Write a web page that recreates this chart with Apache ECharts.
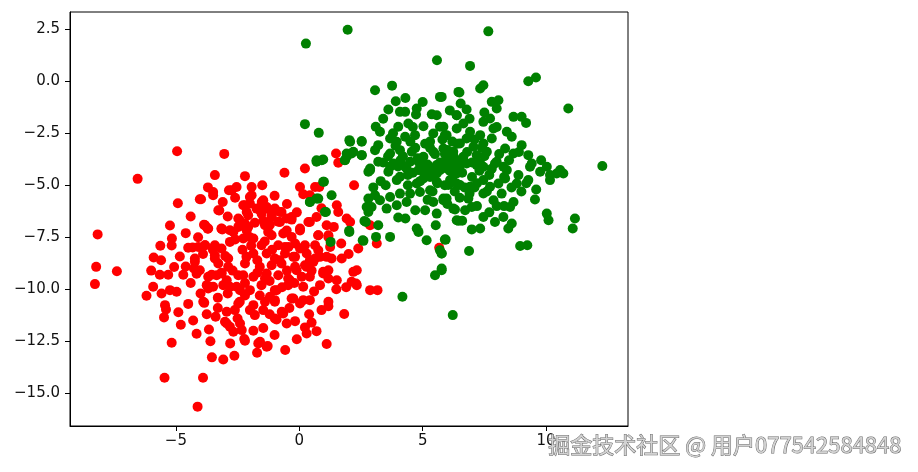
<!DOCTYPE html>
<html>
<head>
<meta charset="utf-8">
<script src="https://cdn.jsdelivr.net/npm/echarts@6.0.0/dist/echarts.min.js"></script>
<style>
  html, body { margin: 0; padding: 0; background: #fff; }
  #chart { width: 918px; height: 472px; }
</style>
</head>
<body>
<div id="chart"></div>
<script>
// tick positions
const xTicks = [-5, 0, 5, 10];
const yTicks = [-15, -12.5, -10, -7.5, -5, -2.5, 0, 2.5];

// red blob
const redPoints = [
  [-4.95, -3.36], [-3.04, -3.49], [-6.55, -4.69], [-3.42, -4.51], [-3.49, -5.32], [-2.85, -5.24],
  [-3.98, -5.67], [-4.92, -5.86], [-3.24, -6.21], [-8.17, -7.36], [-5.24, -6.93], [-3.86, -6.9],
  [-3.71, -7.09], [-3.12, -7.12], [-5.16, -7.56], [-5.63, -7.91], [-5.17, -7.89], [-4.32, -7.99],
  [-3.82, -7.88], [-5.9, -8.47], [-4.84, -8.42], [-8.23, -8.92], [-7.39, -9.13], [-5.07, -8.93],
  [-4.23, -8.68], [-4.27, -9.0], [-3.42, -8.52], [-5.65, -9.3], [-5.31, -9.3], [-4.7, -9.3],
  [-4.16, -9.25], [-3.55, -9.3], [-3.15, -9.2], [-8.28, -9.75],
  [-5.92, -9.88], [-6.19, -10.31], [-5.58, -10.2], [-5.24, -10.04], [-4.97, -10.12], [-3.62, -9.88],
  [-5.44, -10.76], [-5.4, -10.97], [-5.48, -11.35], [-3.85, -10.65], [-3.75, -11.2], [-3.39, -11.32],
  [-2.94, -11.08], [-2.94, -11.64], [-4.16, -12.14], [-3.66, -11.93], [-5.17, -12.57], [-3.54, -13.27],
  [-3.08, -13.37], [-5.46, -14.25], [-3.9, -14.25], [-4.12, -15.64],
  [-2.63, -13.19], [-2.2, -12.47], [-1.66, -12.6], [-1.28, -12.73], [-1.71, -13.05], [-0.57, -12.92],
  [2.19, -9.16], [2.3, -9.72], [1.18, -10.81], [1.82, -11.19], [1.11, -12.63], [0.7, -12.01],
  [0.3, -12.12], [0.23, -11.83], [-0.17, -11.53], [-0.65, -11.16], [-0.92, -11.45], [-0.51, -11.64],
  [-1.32, -12.76], [-1.59, -12.52], [-1.46, -11.86], [-1.86, -11.99], [-2.23, -12.39],
  [-3.01, -11.56], [-2.81, -11.8], [-2.4, -11.64], [-2.33, -11.96], [-2.67, -12.04], [-2.61, -11.0],
  [-2.47, -10.68], [-1.86, -10.76], [-1.8, -11.24], [-1.46, -11.0], [-1.39, -10.6], [-0.99, -11.4],
  [-0.71, -11.08], [-1.19, -10.36], [-0.99, -10.6], [-0.92, -10.04], [-0.24, -10.44], [0.03, -10.68],
  [0.16, -10.52], [-2.4, -10.04], [-2.81, -9.88], [-3.49, -9.88], [-3.75, -9.8],
  [-2.2, -4.56], [-2.74, -5.24], [-2.54, -5.08], [-1.93, -5.08], [-1.93, -5.48], [-2.0, -5.88],
  [-1.52, -5.8], [-1.59, -6.2], [-2.27, -5.96], [-2.13, -6.28], [-1.32, -6.11], [-1.12, -6.44],
  [-0.78, -6.28], [-2.4, -6.7], [-2.2, -6.85], [-1.8, -6.8], [-1.46, -6.7], [-1.19, -6.9],
  [-0.85, -6.75], [-0.51, -6.6], [-0.31, -6.65], [-3.82, -6.93], [-3.15, -7.09], [-2.67, -7.24],
  [-2.13, -7.17], [-1.26, -7.24], [-0.51, -7.17], [0.03, -7.17],
  [0.23, -4.19], [0.03, -5.08], [0.16, -5.43], [0.43, -5.48], [0.64, -5.08], [0.81, -5.08],
  [1.49, -3.47], [1.58, -3.92], [2.22, -5.0], [1.52, -5.96], [1.58, -6.28], [1.92, -6.6],
  [2.06, -6.76], [0.43, -6.76], [0.7, -6.52], [1.11, -6.92], [1.18, -7.4], [0.77, -7.4],
  [1.31, -8.52], [1.72, -8.52], [1.18, -9.08], [2.39, -8.04], [0.77, -8.12], [0.84, -8.44],
  [0.43, -8.6], [0.3, -8.92], [-0.11, -9.08], [-0.24, -8.44], [-0.44, -7.96], [0.03, -8.04],
  [2.87, -6.92], [3.14, -7.8], [2.33, -9.08], [2.12, -9.64], [2.33, -9.8], [2.87, -10.04],
  [3.17, -10.04], [5.67, -8.0],
  [-4.03, -5.67], [-3.49, -5.48], [-2.0, -5.56], [-1.46, -5.72],
  [-3.28, -6.2], [-2.2, -5.96], [-1.73, -6.12], [-1.32, -6.04], [-0.99, -6.12], [-0.31, -6.52],
  [-2.47, -6.6], [-2.07, -6.44], [-1.53, -6.36], [-1.12, -6.52], [-0.72, -6.28], [-0.78, -6.76],
  [0.03, -7.08], [0.37, -6.76],
  [-3.82, -6.92], [-3.69, -7.08], [-3.15, -7.08], [-2.81, -7.16], [-2.47, -7.0], [-2.07, -7.0],
  [-1.39, -6.92], [-1.12, -7.4], [-0.65, -7.32], [-0.31, -7.48], [0.77, -7.4], [1.18, -7.48],
  [-4.09, -7.96], [-3.82, -7.88], [-3.42, -7.88], [-3.15, -8.04], [-2.81, -7.72], [-2.27, -7.56],
  [-1.86, -7.56], [-1.53, -7.88], [-0.85, -7.88], [-0.58, -7.96], [-0.17, -7.8], [0.23, -7.88],
  [0.64, -7.88], [1.25, -7.96],
  [-4.23, -8.52], [-3.42, -8.36], [-2.88, -8.52], [-2.14, -8.44], [-1.86, -8.28], [-1.32, -8.28],
  [-0.99, -8.52], [-0.58, -8.28], [-0.17, -8.44], [0.3, -8.28], [0.64, -8.52], [1.11, -8.44],
  [-4.03, -9.08], [-3.28, -8.76], [-2.88, -8.92], [-2.2, -8.76], [-1.6, -8.92], [-1.12, -8.84],
  [-0.72, -8.76], [-0.17, -8.92], [0.23, -8.84], [0.57, -8.68], [0.97, -9.16],
  [-3.69, -9.4], [-3.15, -9.24], [-2.47, -9.32], [-1.86, -9.4], [-1.39, -9.48], [-0.85, -9.32],
  [-0.45, -9.48], [0.1, -9.4], [0.43, -9.4], [1.18, -9.48],
  [-3.69, -9.96], [-3.08, -9.8], [-2.54, -9.88], [-2.0, -10.04], [-1.53, -9.8], [-0.99, -10.04],
  [-0.45, -9.8], [0.16, -9.88], [0.84, -9.8],
  [-3.89, -10.6], [-2.41, -10.6], [-0.99, -10.52], [-0.31, -10.44], [0.43, -10.52], [1.18, -10.6],
  [-3.35, -9.32], [-2.94, -9.56], [-2.27, -9.32], [-1.32, -9.24], [-0.38, -9.56], [0.97, -9.24],
  [1.52, -9.56],
  [-2.9, -6.5], [-2.6, -7.6], [-2.3, -8.1], [-1.95, -7.9], [-1.7, -8.6], [-1.4, -7.7],
  [-1.1, -8.1], [-0.8, -8.6], [-0.5, -9.1], [-0.2, -9.7], [0.5, -9.1], [0.6, -10.1],
  [-0.7, -9.9], [-1.2, -9.6], [-1.7, -9.2], [-2.2, -9.7], [-2.7, -9.1], [-3.0, -8.4],
  [-3.5, -8.1], [-3.9, -8.3], [-4.5, -8.0], [-4.6, -8.9], [-4.4, -9.7], [-4.0, -10.2],
  [-3.3, -10.4], [-2.9, -10.2], [-2.2, -10.3], [-1.6, -10.3], [-2.0, -11.0], [-1.2, -11.2],
  [-0.4, -10.9], [0.4, -11.2], [-3.3, -10.9], [-4.5, -10.7], [-4.3, -11.5], [-3.6, -12.5],
  [-2.8, -12.6], [-1.0, -12.2], [-0.1, -12.4], [0.5, -11.6], [-1.0, -5.5], [-0.5, -5.9],
  [-2.6, -5.6], [-3.1, -5.8], [-4.4, -6.5], [-4.6, -7.3], [-4.1, -7.5], [-2.0, -7.5],
  [-0.1, -6.3], [0.9, -6.1], [1.4, -7.0], [1.7, -7.8], [2.0, -8.3], [1.5, -10.0],
  [1.9, -9.9], [-5.6, -8.6], [-6.0, -9.1], [-4.9, -11.1], [-4.8, -11.7], [-2.5, -11.4],
  [0.9, -11.0], [-1.5, -5.0], [-3.7, -5.1], [-0.6, -4.4]
];

// green blob
const greenPoints = [
  [1.96, 2.48], [0.27, 1.81], [5.58, 1.01], [3.07, -0.43], [3.76, -0.21], [5.7, -0.75],
  [6.45, -0.51], [3.91, -0.96], [3.61, -1.36], [4.08, -1.47], [4.29, -1.47], [4.76, -1.31],
  [4.73, -1.6], [5.37, -1.59], [5.57, -1.63], [6.38, -1.63], [0.23, -2.06], [0.79, -2.48],
  [3.1, -2.19], [3.27, -2.43], [4.01, -2.19], [4.42, -2.03], [5.03, -2.16], [5.43, -2.51],
  [5.7, -2.19], [5.97, -2.59], [6.38, -2.27], [2.03, -2.83], [2.53, -2.87], [3.2, -3.07],
  [3.07, -3.31], [3.68, -2.75], [3.95, -2.91], [4.29, -2.67], [4.69, -2.59], [1.92, -3.47],
  [2.19, -3.39], [2.53, -3.55], [3.68, -3.47], [4.08, -3.31], [4.56, -3.39], [5.03, -3.63],
  [5.43, -3.39], [5.84, -3.23], [6.24, -3.55], [0.7, -3.87], [0.97, -3.76], [1.85, -3.8],
  [2.87, -4.19], [3.68, -4.11], [4.29, -4.11], [4.83, -3.87], [5.3, -4.19], [5.97, -3.95],
  [6.45, -4.11],
  [7.66, 2.4], [6.92, 0.74], [9.28, 0.0], [9.59, 0.18], [7.33, -0.35], [7.46, -0.19],
  [6.49, -0.54], [5.77, -0.75], [7.8, -0.99], [8.07, -0.91], [8.0, -1.31], [10.9, -1.31],
  [6.54, -1.07], [6.78, -1.36], [6.38, -1.63], [8.68, -1.71], [9.01, -1.71], [9.19, -2.0],
  [7.46, -1.95], [7.73, -1.79], [7.87, -2.27], [6.65, -2.03], [6.92, -2.43], [6.78, -2.75],
  [7.33, -2.59], [5.84, -2.19], [5.9, -2.59], [8.41, -2.43], [8.61, -2.67], [9.01, -3.07],
  [8.34, -3.23], [8.68, -3.47], [9.28, -3.55], [9.42, -3.95], [6.51, -2.99], [7.06, -3.15],
  [7.46, -2.99], [7.8, -2.75], [6.24, -3.39], [6.65, -3.63], [7.19, -3.55], [7.6, -3.39],
  [5.97, -3.8], [6.51, -4.03], [7.33, -3.95], [8.0, -3.87], [8.27, -4.11], [10.03, -4.11],
  [10.57, -4.27], [12.28, -4.07],
  [5.97, -4.03], [6.38, -4.11], [6.78, -3.95], [7.19, -4.03], [7.46, -4.11], [7.93, -3.95],
  [8.41, -4.27], [8.88, -4.51], [9.35, -4.11], [9.76, -4.35], [10.16, -4.51], [10.43, -4.43],
  [10.7, -4.43], [6.11, -4.75], [6.51, -4.99], [6.92, -5.07], [7.46, -4.75], [7.73, -5.07],
  [8.07, -4.91], [8.34, -4.67], [8.81, -4.91], [9.28, -4.75], [10.16, -4.75], [5.84, -5.72],
  [5.97, -5.64], [6.85, -5.64], [7.46, -5.39], [7.87, -5.72], [8.68, -5.8], [8.54, -6.04],
  [9.55, -5.68], [6.31, -6.16], [6.72, -6.2], [6.99, -6.04], [7.46, -6.52], [7.93, -6.76],
  [8.27, -6.52], [8.61, -6.84], [8.47, -7.08], [6.45, -6.71], [6.99, -7.12], [7.33, -7.08],
  [10.03, -6.36], [10.1, -6.68], [11.17, -6.6], [11.08, -7.08], [8.95, -7.92], [9.24, -7.88],
  [6.88, -8.16], [5.9, -7.61], [5.77, -8.28], [5.77, -9.08], [6.22, -11.24],
  [1.85, -3.79], [2.87, -4.27], [3.2, -3.87], [3.61, -4.35], [4.08, -4.59], [4.35, -4.19],
  [4.83, -4.27], [5.16, -4.51], [5.57, -4.43], [5.97, -4.19], [6.38, -4.43], [3.81, -3.95],
  [4.49, -3.87], [5.03, -3.95], [5.57, -4.03], [6.24, -3.87], [0.97, -4.83], [1.31, -5.48],
  [0.7, -5.64], [0.43, -5.8], [1.04, -6.28], [2.8, -5.64], [3.07, -5.48], [3.27, -5.72],
  [3.68, -5.56], [2.93, -6.04], [3.54, -6.12], [3.95, -5.96], [4.35, -5.8], [4.49, -5.4],
  [4.08, -5.4], [4.89, -5.32], [5.3, -5.24], [5.84, -5.64], [5.43, -5.8], [5.1, -6.2],
  [5.57, -6.36], [6.24, -6.12], [6.38, -6.68], [3.95, -4.75], [4.76, -4.91], [5.03, -4.67],
  [5.57, -4.83], [6.04, -4.99], [6.38, -4.91], [5.7, -4.27], [6.11, -3.95], [2.7, -6.76],
  [3.2, -6.92], [2.03, -7.24], [2.6, -7.67], [3.11, -7.48], [3.68, -7.48], [4.01, -6.55],
  [4.76, -7.08], [4.83, -7.24], [5.16, -7.64], [5.53, -6.92], [5.93, -7.61], [5.77, -8.28],
  [5.7, -8.12], [5.77, -9.0], [5.5, -9.32], [4.18, -10.36],
  [2.06, -2.91], [2.53, -2.91], [0.7, -3.8], [0.91, -3.8], [1.92, -3.63], [2.12, -3.47],
  [2.53, -3.55], [2.8, -4.35], [1.0, -4.83], [0.43, -5.8], [0.77, -5.64], [1.08, -6.28],
  [2.73, -6.04], [2.8, -6.28], [2.64, -6.72], [2.02, -7.19], [2.57, -7.64], [1.27, -7.72],
  [3.9, -3.1], [4.2, -3.6], [4.5, -2.9], [4.8, -3.7], [5.1, -3.0], [5.3, -4.6],
  [5.5, -3.5], [5.8, -2.8], [6.0, -3.3], [6.2, -4.7], [6.4, -3.0], [6.6, -4.4],
  [6.8, -3.4], [7.0, -4.6], [7.1, -2.8], [7.3, -4.3], [7.5, -3.6], [7.7, -4.5],
  [6.9, -5.4], [6.3, -5.3], [5.9, -5.0], [5.4, -5.3], [4.9, -4.8], [4.4, -5.0],
  [4.0, -4.1], [3.6, -3.6], [3.3, -4.8], [4.6, -4.4], [5.2, -4.0], [5.7, -3.9],
  [6.1, -4.3], [6.5, -5.6], [7.1, -5.1], [7.6, -5.3], [8.2, -5.4], [8.5, -3.8],
  [8.9, -3.4], [9.2, -4.9], [9.6, -5.2], [8.0, -6.0],
  [4.1, -3.8], [4.4, -4.5], [4.7, -3.2], [5.0, -4.3], [5.3, -3.2], [5.6, -4.9],
  [5.9, -3.5], [6.2, -2.9], [6.5, -3.8], [6.7, -5.1], [7.0, -3.9], [7.2, -4.9],
  [7.4, -3.2], [7.8, -4.2], [8.1, -3.5], [8.3, -4.6], [8.6, -5.1], [8.0, -2.2],
  [7.5, -1.5], [6.9, -1.8], [6.1, -1.4], [5.3, -2.9], [4.6, -2.2], [3.8, -2.5],
  [3.4, -3.9], [3.5, -5.0], [3.0, -5.1], [4.3, -6.6], [4.7, -6.2], [5.2, -5.7],
  [6.0, -5.9], [6.6, -6.7], [7.2, -6.0], [7.7, -6.3], [8.3, -6.0], [9.8, -3.8],
  [9.0, -5.3], [5.0, -1.0], [4.3, -0.8], [3.4, -1.8]
];

const watermark = '掘金技术社区 @ 用户077542584848';

const chart = echarts.init(document.getElementById('chart'));

const minus = (v) => String(v).replace('-', '\u2212');

chart.setOption({
  animation: false,
  backgroundColor: '#fff',
  grid: {
    left: 70,
    right: 290,
    top: 12,
    bottom: 46,
    show: true,
    borderColor: '#000',
    borderWidth: 1
  },
  xAxis: {
    type: 'value',
    min: -9.29,
    max: 13.32,
    splitLine: { show: false },
    axisLine: { show: true, onZero: false, lineStyle: { color: '#000', width: 1 } },
    axisTick: { show: true, customValues: xTicks, length: 5, lineStyle: { color: '#000' } },
    axisLabel: {
      customValues: xTicks,
      margin: 8,
      color: '#111',
      fontFamily: 'DejaVu Sans',
      fontSize: 15,
      formatter: (v) => minus(v)
    }
  },
  yAxis: {
    type: 'value',
    min: -16.57,
    max: 3.33,
    splitLine: { show: false },
    axisLine: { show: true, onZero: false, lineStyle: { color: '#000', width: 1 } },
    axisTick: { show: true, customValues: yTicks, length: 5, lineStyle: { color: '#000' } },
    axisLabel: {
      customValues: yTicks,
      margin: 10,
      color: '#111',
      fontFamily: 'DejaVu Sans',
      fontSize: 15,
      formatter: (v) => minus(v.toFixed(1))
    }
  },
  series: [
    {
      type: 'scatter',
      data: redPoints,
      symbolSize: 10,
      itemStyle: { color: '#ff0000', opacity: 1 }
    },
    {
      type: 'scatter',
      data: greenPoints,
      symbolSize: 10,
      itemStyle: { color: '#008000', opacity: 1 }
    }
  ],
  graphic: [
    {
      type: 'text',
      right: 16,
      top: 433,
      z: 100,
      style: {
        text: watermark,
        fontSize: 22,
        fontFamily: 'Noto Sans CJK SC',
        fill: '#d2d2d2',
        stroke: '#6a6a6a',
        lineWidth: 1
      }
    }
  ]
});
</script>
</body>
</html>
